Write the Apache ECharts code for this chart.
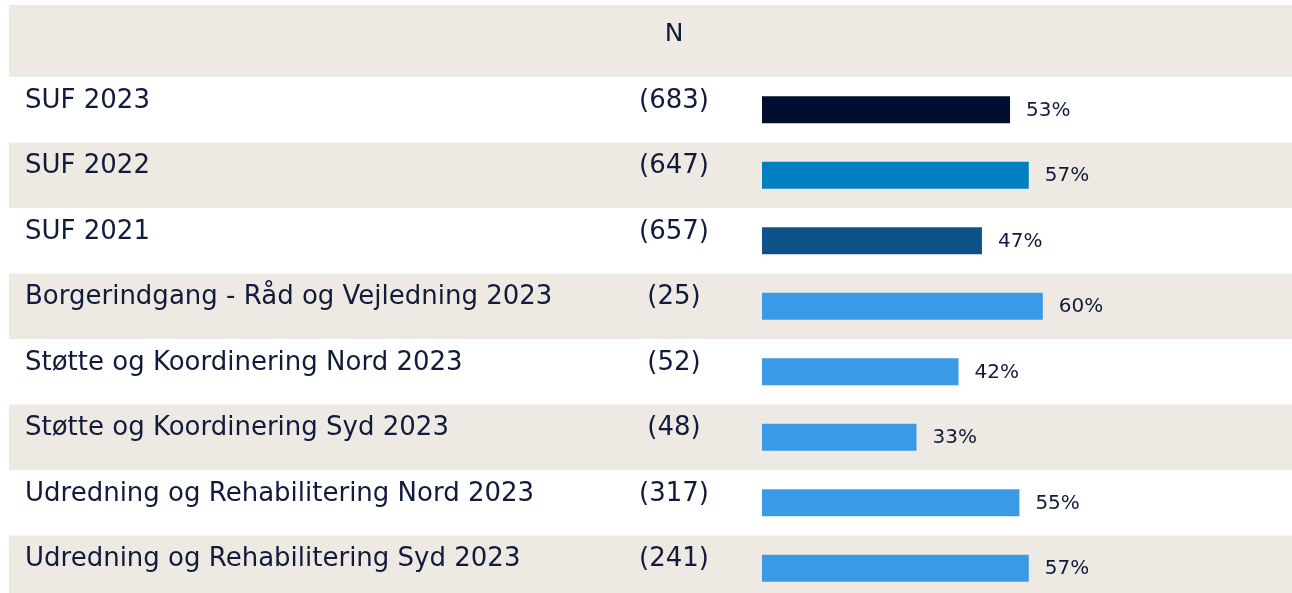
<!DOCTYPE html>
<html>
<head>
<meta charset="utf-8">
<script src="https://cdn.jsdelivr.net/npm/echarts@6/dist/echarts.min.js"></script>
<style>
  html, body { margin: 0; padding: 0; background: #fff; overflow: hidden; }
  #myChart { width: 1292px; height: 601px; }
</style>
</head>
<body>
<div id="myChart"></div>
<script>
// categories, N and share (%)
const categories = [
  'SUF 2023',
  'SUF 2022',
  'SUF 2021',
  'Borgerindgang - Råd og Vejledning 2023',
  'Støtte og Koordinering Nord 2023',
  'Støtte og Koordinering Syd 2023',
  'Udredning og Rehabilitering Nord 2023',
  'Udredning og Rehabilitering Syd 2023'
]
const counts = [683, 647, 657, 25, 52, 48, 317, 241]
const shares = [53, 57, 47, 60, 42, 33, 55, 57]
const barColors = ['#000e2f', '#0080c0', '#0f5289', '#3a9ae6', '#3a9ae6', '#3a9ae6', '#3a9ae6', '#3a9ae6']

const FONT = 'DejaVu Sans'
const TEXT = '#111b3b'
const BEIGE = '#eeeae3'
const TOP = 77
const ROW = 65.5

let myChart = echarts.init(document.getElementById('myChart'))

myChart.setOption({
  animation: false,
  graphic: [
    {
      type: 'rect',
      shape: { x: 9, y: 5, width: 1283, height: TOP - 5 },
      style: { fill: BEIGE },
      z: 0
    },
    {
      type: 'text',
      x: 674,
      y: 34,
      style: {
        text: 'N',
        fill: TEXT,
        font: '25px "' + FONT + '"',
        align: 'center',
        verticalAlign: 'middle'
      },
      z: 10
    }
  ],
  grid: [
    { left: 9, right: 0, top: TOP, height: ROW * categories.length },
    { left: 762, width: 468, top: TOP, height: ROW * categories.length }
  ],
  xAxis: [
    { gridIndex: 0, type: 'value', min: 0, max: 1, show: false },
    { gridIndex: 1, type: 'value', min: 0, max: 100, show: false }
  ],
  yAxis: [
    {
      gridIndex: 0,
      type: 'category',
      data: categories,
      inverse: true,
      position: 'left',
      axisLine: { show: false },
      axisTick: { show: false },
      splitLine: { show: false },
      splitArea: { show: true, areaStyle: { color: ['#ffffff', BEIGE] } },
      axisLabel: {
        inside: true,
        margin: 16,
        align: 'left',
        verticalAlign: 'bottom',
        lineHeight: 18,
        color: TEXT,
        fontFamily: FONT,
        fontSize: 26
      }
    },
    {
      gridIndex: 0,
      type: 'category',
      data: counts.map(n => '(' + n + ')'),
      inverse: true,
      position: 'left',
      axisLine: { show: false },
      axisTick: { show: false },
      splitLine: { show: false },
      axisLabel: {
        inside: true,
        margin: 665,
        align: 'center',
        verticalAlign: 'bottom',
        lineHeight: 18,
        color: TEXT,
        fontFamily: FONT,
        fontSize: 26
      }
    },
    {
      gridIndex: 1,
      type: 'category',
      data: categories,
      inverse: true,
      show: false
    }
  ],
  series: [
    {
      type: 'bar',
      xAxisIndex: 1,
      yAxisIndex: 2,
      barWidth: 27,
      data: shares.map((v, i) => ({ value: v, itemStyle: { color: barColors[i] } })),
      label: {
        show: true,
        position: 'right',
        distance: 16,
        offset: [0, 1],
        formatter: '{c}%',
        color: TEXT,
        fontFamily: FONT,
        fontSize: 20
      },
      z: 5
    }
  ]
})
</script>
</body>
</html>
